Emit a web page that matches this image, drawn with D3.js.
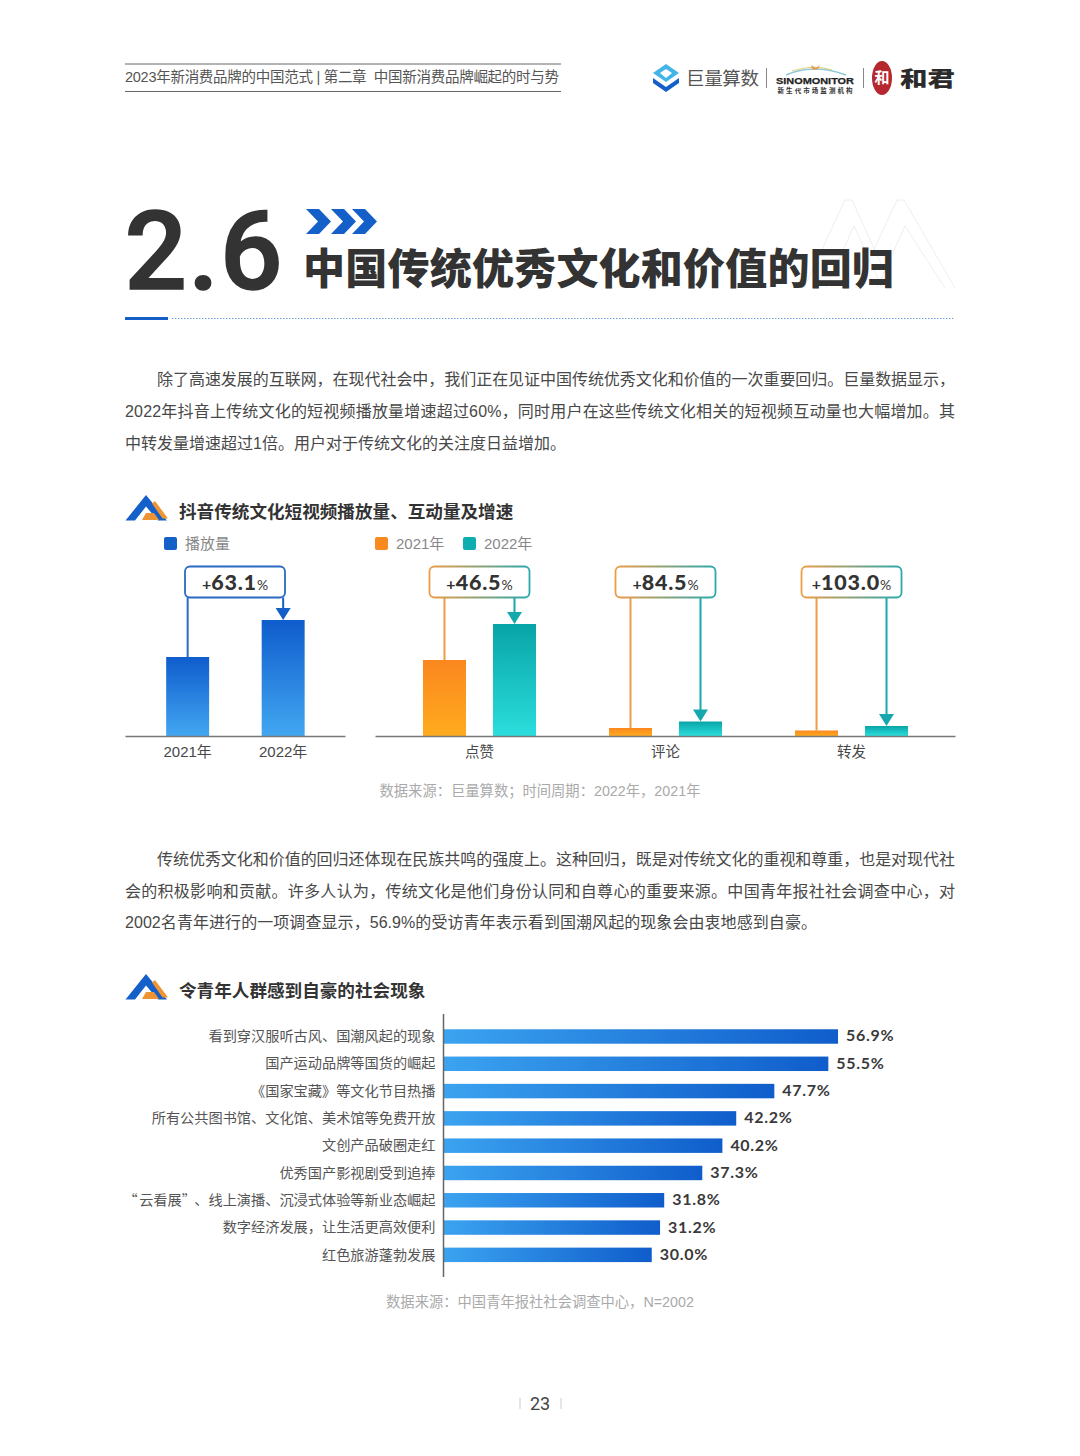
<!DOCTYPE html>
<html lang="zh-CN">
<head>
<meta charset="utf-8">
<style>
  html, body { margin: 0; padding: 0; background: #fff; }
  svg { display: block; }
  text { font-family: "Liberation Sans", "Noto Sans CJK SC", sans-serif; }
  .cjk, .cjk text { font-family: "Noto Sans CJK SC", sans-serif; }
</style>
<script src="https://cdn.jsdelivr.net/npm/d3@7"></script>
</head>
<body>
<script>
'use strict';

// values; bar heights have no printed value, so they are relative
let playYears = ['2021年', '2022年'];
let playValues = [79, 116];
let playChange = '63.1';

let interactCats = ['点赞', '评论', '转发'];
let interactYears = ['2021年', '2022年'];
let interact2021 = [76, 8, 5.5];
let interact2022 = [112, 14.5, 10];
let interactChange = ['46.5', '84.5', '103.0'];

let prideLabels = [
    '看到穿汉服听古风、国潮风起的现象',
    '国产运动品牌等国货的崛起',
    '《国家宝藏》等文化节目热播',
    '所有公共图书馆、文化馆、美术馆等免费开放',
    '文创产品破圈走红',
    '优秀国产影视剧受到追捧',
    '“云看展”、线上演播、沉浸式体验等新业态崛起',
    '数字经济发展，让生活更高效便利',
    '红色旅游蓬勃发展'
];
let prideValues = [56.9, 55.5, 47.7, 42.2, 40.2, 37.3, 31.8, 31.2, 30.0];

let para1 = [
    '除了高速发展的互联网，在现代社会中，我们正在见证中国传统优秀文化和价值的一次重要回归。巨量数据显示，',
    '2022年抖音上传统文化的短视频播放量增速超过60%，同时用户在这些传统文化相关的短视频互动量也大幅增加。其',
    '中转发量增速超过1倍。用户对于传统文化的关注度日益增加。'
];
let para2 = [
    '传统优秀文化和价值的回归还体现在民族共鸣的强度上。这种回归，既是对传统文化的重视和尊重，也是对现代社',
    '会的积极影响和贡献。许多人认为，传统文化是他们身份认同和自尊心的重要来源。中国青年报社社会调查中心，对',
    '2002名青年进行的一项调查显示，56.9%的受访青年表示看到国潮风起的现象会由衷地感到自豪。'
];

let w = 1080, h = 1456;
let blue = '#1560c8', orange = '#f98a20', teal = '#0eaeb0';

let svg = d3.select('body').append('svg').attr('width', w).attr('height', h);
let defs = svg.append('defs');

function gradient(id, c1, c2, horizontal) {
    let g = defs.append('linearGradient').attr('id', id)
        .attr('x1', 0).attr('y1', 0)
        .attr('x2', horizontal ? 1 : 0).attr('y2', horizontal ? 0 : 1);
    g.append('stop').attr('offset', 0).attr('stop-color', c1);
    g.append('stop').attr('offset', 1).attr('stop-color', c2);
}
gradient('gBlue', '#0f5ccd', '#42a7f1');
gradient('gOrange', '#fb871f', '#ffab1e');
gradient('gTeal', '#08a4a7', '#2bdedd');
gradient('gHbar', '#3ba3f0', '#0f5dcb', true);
gradient('gBox', '#ee9c45', '#2aa9ad', true);

function label(x, y, str, size, color, opts) {
    opts = opts || {};
    let t = svg.append('text')
        .attr('x', x).attr('y', y)
        .attr('font-size', size)
        .attr('fill', color)
        .attr('text-anchor', opts.anchor || 'start')
        .attr('font-weight', opts.weight || 400)
        .text(str);
    if (opts.cjk) t.attr('class', 'cjk');
    if (opts.len) t.attr('textLength', opts.len).attr('lengthAdjust', opts.adjust || 'spacing');
    return t;
}

// header
svg.append('line').attr('x1', 125).attr('x2', 561).attr('y1', 64).attr('y2', 64).attr('stroke', '#666');
svg.append('line').attr('x1', 125).attr('x2', 561).attr('y1', 91.5).attr('y2', 91.5).attr('stroke', '#666');
label(125, 82, '2023年新消费品牌的中国范式 | 第二章  中国新消费品牌崛起的时与势', 14.5, '#555', {len: 434})
    .style('white-space', 'pre');

// logos
svg.append('path').attr('d', 'M666 64l13 9-13 9-13-9z').attr('fill', '#43b4e8');
svg.append('path').attr('d', 'M666 69l6 4-6 5-6-5z').attr('fill', '#fff');
svg.append('path').attr('d', 'M653 78l13 9 13-9v5l-13 9-13-9z').attr('fill', '#1560c8');
label(686, 85, '巨量算数', 18.5, '#555', {cjk: true, len: 73});
svg.append('line').attr('x1', 766.5).attr('x2', 766.5).attr('y1', 68).attr('y2', 88).attr('stroke', '#888');
svg.append('path').attr('d', 'M786 75q28-12 60 0').attr('fill', 'none').attr('stroke', '#8cc6d8').attr('stroke-width', 1.5);
svg.append('path').attr('d', 'M792 71q22-7 40-1').attr('fill', 'none').attr('stroke', '#d9cf7a').attr('stroke-width', 1);
svg.append('path').attr('d', 'M811 65l5 3 4-3-2 4-5 1z').attr('fill', '#e59a4a');
label(815, 83.5, 'SINOMONITOR', 9.5, '#222', {anchor: 'middle', weight: 700, len: 78, adjust: 'spacingAndGlyphs'})
    .attr('stroke', '#222').attr('stroke-width', 0.25);
label(815, 92.5, '新生代市场监测机构', 6.5, '#333', {anchor: 'middle', weight: 700, cjk: true, len: 75});
svg.append('line').attr('x1', 863.5).attr('x2', 863.5).attr('y1', 68).attr('y2', 88).attr('stroke', '#888');
svg.append('ellipse').attr('cx', 882).attr('cy', 78).attr('rx', 10).attr('ry', 17).attr('fill', '#b5282f');
label(882, 83, '和', 15, '#fff', {anchor: 'middle', cjk: true, weight: 700});
label(900, 85.5, '和君', 21, '#2b2b2b', {cjk: true, weight: 900, len: 55, adjust: 'spacingAndGlyphs'});

// section title
svg.append('g').attr('fill', 'none').attr('stroke', '#eeeeee').selectAll('path')
    .data([
        'M804 288l41-88h7l40 88', 'M856 288l41-88h7l51 88',
        'M826 288l28-62 28 62', 'M877 288l28-62 40 62'
    ])
    .enter().append('path').attr('d', d => d);
label(124.5, 288.5, '2.6', 110, '#333', {weight: 500})
    .style('font-family', 'Roboto').attr('stroke', '#333').attr('stroke-width', 1.6).attr('letter-spacing', 1.2);
svg.append('g').attr('fill', blue).selectAll('path')
    .data([306, 331, 352])
    .enter().append('path')
    .attr('d', d => `M${d} 209h13l12 12.5-12 12.5h-13l12-12.5z`);
label(303, 284, '中国传统优秀文化和价值的回归', 42, '#333', {cjk: true, weight: 900, len: 591});
svg.append('rect').attr('x', 125).attr('y', 317).attr('width', 43).attr('height', 3).attr('fill', blue);
svg.append('line').attr('x1', 172).attr('x2', 955).attr('y1', 318.5).attr('y2', 318.5)
    .attr('stroke', '#6f9fd6').attr('stroke-dasharray', '1.5 1.5');

function paragraph(lines, y0, lastExtra) {
    lines.forEach((s, i) => {
        let x = i === 0 ? 157 : 125;
        let t = label(x, y0 + i * 31.7, s, 16, '#484848');
        if (i < 2) t.attr('textLength', 955 - x).attr('lengthAdjust', 'spacing');
        else t.attr('textLength', t.node().getComputedTextLength() + lastExtra).attr('lengthAdjust', 'spacing');
    });
}
paragraph(para1, 385.3, 0);
paragraph(para2, 865, 3);

function heading(str, y) {
    svg.append('path').attr('d', `M146 ${y - 16}l21 25.5h-9l-12-14-11 14h-9.5z`).attr('fill', '#1560c8');
    svg.append('path').attr('d', `M155 ${y - 10}l13 17.5h-5.5l-10.5-15zM146 ${y + 2}h8l5 7h-17z`).attr('fill', '#ef9434');
    label(179, y + 6.5, str, 17.6, '#333', {cjk: true, weight: 700});
}
heading('抖音传统文化短视频播放量、互动量及增速', 511);
heading('令青年人群感到自豪的社会现象', 990);

// legends
function legend(x, color, str) {
    svg.append('rect').attr('x', x).attr('y', 537).attr('width', 13).attr('height', 13).attr('rx', 2).attr('fill', color);
    label(x + 21, 549, str, 15, '#888');
}
legend(164, blue, '播放量');
legend(375, orange, interactYears[0]);
legend(463, teal, interactYears[1]);

// shared vertical scale for the two column charts
let baseY = 736;
let y = d3.scaleLinear().domain([0, 120]).range([baseY, baseY - 120]);

function bottomAxis(scale, size) {
    let g = svg.append('g').attr('transform', `translate(0,${baseY})`)
        .call(d3.axisBottom(scale).tickSize(0).tickPadding(10.5));
    g.select('.domain').attr('stroke', '#777').attr('stroke-width', 1.5);
    g.selectAll('text').attr('font-size', size).attr('fill', '#484848')
        .style('font-family', '"Liberation Sans", "Noto Sans CJK SC", sans-serif');
}

// callout box with the two stems running to the bar tops
function callout(cx, xa, xb, topA, topB, pct, boxStroke, colorA, colorB) {
    let boxTop = 566.5, boxBottom = 597.5;
    svg.append('line').attr('x1', xa).attr('x2', xa).attr('y1', boxBottom).attr('y2', topA)
        .attr('stroke', colorA).attr('stroke-width', 2);
    svg.append('line').attr('x1', xb).attr('x2', xb).attr('y1', boxBottom).attr('y2', topB - 10)
        .attr('stroke', colorB).attr('stroke-width', 2);
    svg.append('path').attr('d', `M${xb - 7.5} ${topB - 12}h15l-7.5 12z`).attr('fill', colorB);
    svg.append('rect').attr('x', cx - 50).attr('y', boxTop).attr('width', 100).attr('height', boxBottom - boxTop)
        .attr('rx', 5).attr('fill', '#fff').attr('stroke', boxStroke).attr('stroke-width', 1.8);
    let t = svg.append('text').attr('x', cx).attr('y', boxBottom - 8).attr('text-anchor', 'middle')
        .style('font-family', 'Lato, "Open Sans", sans-serif').attr('fill', '#333');
    t.append('tspan').attr('font-size', 16).attr('font-weight', 700).text('+');
    t.append('tspan').attr('font-size', 21.5).attr('font-weight', 900).attr('letter-spacing', 0.8).text(pct);
    t.append('tspan').attr('font-size', 14).text('%');
}

// left chart
let xPlay = d3.scaleBand().domain(playYears).range([125, 345]).paddingInner(0.55).paddingOuter(0.4268).align(0.505);
svg.append('g').selectAll('rect')
    .data(playValues)
    .enter().append('rect')
    .attr('x', (d, i) => xPlay(playYears[i]))
    .attr('y', d => y(d))
    .attr('width', xPlay.bandwidth())
    .attr('height', d => baseY - y(d))
    .attr('fill', 'url(#gBlue)');
bottomAxis(xPlay, 15);
let playMid = xPlay.bandwidth() / 2;
callout(235, xPlay(playYears[0]) + playMid, xPlay(playYears[1]) + playMid,
    y(playValues[0]), y(playValues[1]), playChange, '#2a6ac2', '#2a6ac2', blue);

// right chart
let x0 = d3.scaleBand().domain(interactCats).range([375, 955]).paddingOuter(0.059).align(0.523);
let x1 = d3.scaleBand().domain(interactYears).range([0, x0.bandwidth()]).paddingInner(0.3857).paddingOuter(0.5214);
let seriesRows = [
    {values: interact2021, year: interactYears[0], fill: 'url(#gOrange)'},
    {values: interact2022, year: interactYears[1], fill: 'url(#gTeal)'}
];
seriesRows.forEach(row => {
    svg.append('g').selectAll('rect')
        .data(row.values)
        .enter().append('rect')
        .attr('x', (d, i) => x0(interactCats[i]) + x1(row.year))
        .attr('y', d => y(d))
        .attr('width', x1.bandwidth())
        .attr('height', d => baseY - y(d))
        .attr('fill', row.fill);
});
bottomAxis(x0, 14.5);
let barMid = x1.bandwidth() / 2;
interactCats.forEach((c, i) => {
    callout(x0(c) + x0.bandwidth() / 2,
        x0(c) + x1(interactYears[0]) + barMid,
        x0(c) + x1(interactYears[1]) + barMid,
        y(interact2021[i]), y(interact2022[i]), interactChange[i],
        'url(#gBox)', '#ee9c45', '#17a8ad');
});

label(540, 796, '数据来源：巨量算数；时间周期：2022年，2021年', 14.3, '#aaa', {anchor: 'middle'});

// horizontal bars
let xPride = d3.scaleLinear().domain([0, 60]).range([444, 859.5]);
let yPride = d3.scaleBand().domain(prideLabels).range([1022.85, 1268.5]).paddingInner(0.47).paddingOuter(0.235);

svg.append('g').selectAll('rect')
    .data(prideValues)
    .enter().append('rect')
    .attr('x', xPride(0))
    .attr('y', (d, i) => yPride(prideLabels[i]))
    .attr('width', d => xPride(d) - xPride(0))
    .attr('height', yPride.bandwidth())
    .attr('fill', 'url(#gHbar)');

let prideAxis = svg.append('g').attr('class', 'cjk').attr('transform', 'translate(443.5,0)')
    .call(d3.axisLeft(yPride).tickSize(0).tickPadding(8));
prideAxis.select('.domain').remove();
prideAxis.selectAll('text').attr('font-size', 14.2).attr('fill', '#555')
    .attr('dy', '0.33em')
    .style('font-family', '"Noto Sans CJK SC", sans-serif');
// curly quotes sit in full-width cells in the reference, the font draws them narrow
prideAxis.selectAll('text').filter(d => d.includes('“')).each(function (d) {
    let t = d3.select(this).text('');
    let prev = '';
    d.split(/([“”])/).forEach(part => {
        let s = t.append('tspan').text(part);
        if (prev === '“') s.attr('dx', 1.5);
        if (prev === '”') s.attr('dx', 5.5);
        prev = part;
    });
});
svg.append('line').attr('x1', 443.5).attr('x2', 443.5).attr('y1', 1014).attr('y2', 1277)
    .attr('stroke', '#666').attr('stroke-width', 1.5);

svg.append('g').selectAll('text')
    .data(prideValues)
    .enter().append('text')
    .attr('x', d => xPride(d) + 8)
    .attr('y', (d, i) => yPride(prideLabels[i]) + yPride.bandwidth() / 2 + 5)
    .attr('font-size', 16)
    .attr('font-weight', 700)
    .attr('fill', '#3a3a3a')
    .attr('letter-spacing', 0.7)
    .style('font-family', 'Lato, sans-serif')
    .text(d => d.toFixed(1) + '%');

label(540, 1307, '数据来源：中国青年报社社会调查中心，N=2002', 14.3, '#aaa', {anchor: 'middle'});

// page number
label(540, 1409.5, '23', 18, '#444', {anchor: 'middle'}).style('font-family', 'Roboto');
svg.append('line').attr('x1', 520).attr('x2', 520).attr('y1', 1398).attr('y2', 1409).attr('stroke', '#ccc');
svg.append('line').attr('x1', 561).attr('x2', 561).attr('y1', 1398).attr('y2', 1409).attr('stroke', '#ccc');
</script>
</body>
</html>
